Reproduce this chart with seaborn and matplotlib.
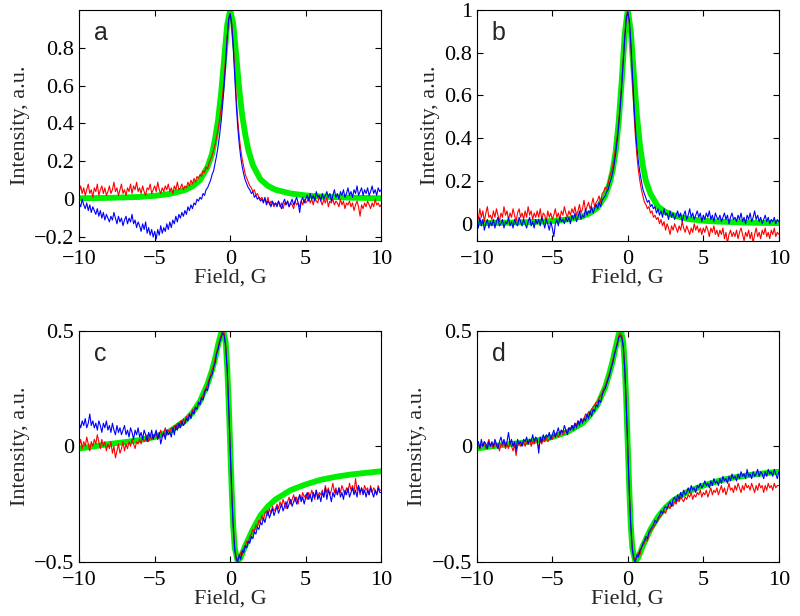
import matplotlib.pyplot as plt
import numpy as np
import seaborn as sns
from matplotlib.ticker import FuncFormatter

# field axis of the measured spectra, -10 .. 10 G in 0.1 G steps
field = np.round(np.arange(-100, 101) / 10.0, 1)

# ---- panel a ----
a_red = [
    0.04, 0.07, 0.03, 0.06, 0.02, 0.05, 0.08, 0.03, 0.05, 0.01,
    0.06, 0.04, 0.08, 0.02, 0.05, 0.07, 0.03, 0.06, 0.02, 0.04,
    0.07, 0.03, 0.05, 0.09, 0.04, 0.06, 0.02, 0.05, 0.08, 0.03,
    0.05, 0.02, 0.06, 0.04, 0.08, 0.03, 0.07, 0.05, 0.09, 0.04,
    0.06, 0.03, 0.07, 0.04, 0.02, 0.06, 0.05, 0.08, 0.03, 0.05,
    0.07, 0.04, 0.09, 0.05, 0.03, 0.06, 0.04, 0.07, 0.05, 0.08,
    0.04, 0.06, 0.03, 0.07, 0.05, 0.09, 0.05, 0.06, 0.08, 0.05,
    0.07, 0.06, 0.09, 0.07, 0.10, 0.08, 0.11, 0.09, 0.12, 0.11,
    0.13, 0.12, 0.15, 0.14, 0.17, 0.16, 0.19, 0.21, 0.23, 0.26,
    0.29, 0.33, 0.37, 0.42, 0.48, 0.55, 0.64, 0.75, 0.86, 0.95,
    0.98,
    0.93, 0.82, 0.68, 0.54, 0.42, 0.33, 0.26, 0.21, 0.17, 0.13,
    0.11, 0.09, 0.07, 0.06, 0.04, 0.05, 0.02, 0.03, 0.01, 0.00,
    0.01, -0.01, 0.00, -0.02, 0.01, -0.03, -0.01, -0.02, -0.04, -0.02,
    -0.03, -0.01, -0.04, -0.02, -0.05, -0.02, -0.03, -0.01, -0.04, -0.02,
    -0.03, -0.05, -0.01, -0.03, -0.02, -0.04, -0.01, -0.03, 0.00, -0.02,
    -0.01, 0.01, -0.02, 0.00, -0.03, 0.01, -0.01, -0.02, 0.02, -0.01,
    -0.03, 0.00, -0.02, 0.01, -0.04, -0.01, -0.02, 0.00, -0.03, -0.01,
    -0.02, -0.04, 0.00, -0.03, -0.01, -0.05, -0.02, -0.03, -0.01, -0.04,
    -0.02, -0.06, -0.03, -0.01, -0.04, -0.09, -0.03, -0.05, -0.02, -0.04,
    -0.01, -0.03, -0.05, -0.02, -0.04, 0.00, -0.03, -0.02, -0.04, -0.03,
]
a_blue = [
    -0.02, -0.04, 0.00, -0.03, -0.05, -0.02, -0.06, -0.03, -0.07, -0.04,
    -0.06, -0.08, -0.05, -0.09, -0.06, -0.10, -0.07, -0.11, -0.08, -0.10,
    -0.12, -0.09, -0.11, -0.07, -0.10, -0.13, -0.09, -0.12, -0.10, -0.14,
    -0.11, -0.09, -0.13, -0.10, -0.12, -0.08, -0.13, -0.11, -0.15, -0.12,
    -0.14, -0.17, -0.13, -0.16, -0.12, -0.18, -0.15, -0.19, -0.16, -0.20,
    -0.17, -0.21, -0.16, -0.19, -0.14, -0.18, -0.15, -0.17, -0.13, -0.16,
    -0.12, -0.15, -0.11, -0.13, -0.09, -0.12, -0.08, -0.10, -0.07, -0.09,
    -0.06, -0.08, -0.04, -0.06, -0.03, -0.05, -0.02, -0.03, 0.00, -0.01,
    0.01, 0.00, 0.03, 0.02, 0.05, 0.06, 0.08, 0.10, 0.13, 0.15,
    0.19, 0.23, 0.28, 0.34, 0.41, 0.50, 0.60, 0.72, 0.85, 0.95,
    0.98,
    0.92, 0.80, 0.65, 0.50, 0.38, 0.29, 0.22, 0.17, 0.13, 0.10,
    0.08, 0.06, 0.05, 0.03, 0.04, 0.01, 0.02, 0.00, 0.01, -0.01,
    0.00, -0.02, 0.01, -0.03, -0.01, -0.02, -0.04, -0.01, -0.03, -0.02,
    -0.04, -0.01, -0.03, -0.05, -0.02, 0.00, -0.03, -0.01, -0.04, -0.02,
    0.00, -0.03, -0.01, 0.01, -0.02, -0.07, -0.01, 0.01, -0.02, 0.00,
    0.02, -0.01, 0.03, 0.00, 0.02, -0.01, 0.04, 0.01, 0.02, -0.01,
    0.03, 0.00, 0.02, 0.04, 0.01, 0.03, -0.01, 0.02, 0.05, 0.01,
    0.03, 0.00, 0.04, 0.02, 0.05, 0.01, 0.03, 0.06, 0.02, 0.04,
    0.01, 0.05, 0.03, 0.07, 0.02, 0.04, 0.06, 0.02, 0.05, 0.03,
    0.06, 0.02, 0.04, 0.07, 0.03, 0.05, 0.02, 0.06, 0.04, 0.05,
]
a_fit_x = [-10, -8, -6, -5, -4, -3, -2.5, -2, -1.5, -1.2, -1, -0.8, -0.6, -0.4, -0.2, 0,
           0.2, 0.4, 0.6, 0.8, 1.0, 1.2, 1.5, 2, 2.5, 3, 4, 5, 6, 8, 10]
a_fit_y = [0.005, 0.007, 0.012, 0.018, 0.028, 0.048, 0.068, 0.10, 0.17, 0.24, 0.32, 0.42, 0.56, 0.74, 0.92, 1.0,
           0.93, 0.76, 0.58, 0.44, 0.34, 0.26, 0.18, 0.105, 0.07, 0.05, 0.03, 0.02, 0.014, 0.008, 0.005]

# ---- panel b ----
b_red = [
    0.05, 0.02, 0.07, 0.03, 0.06, 0.01, 0.05, 0.08, 0.03, 0.04,
    0.02, 0.06, 0.03, 0.07, 0.04, 0.01, 0.05, 0.03, 0.08, 0.04,
    0.06, 0.02, 0.05, 0.03, 0.07, 0.04, 0.01, 0.05, 0.07, 0.03,
    0.05, 0.02, 0.06, 0.03, 0.08, 0.04, 0.06, 0.02, 0.05, 0.03,
    0.06, 0.03, 0.07, 0.02, 0.05, 0.04, 0.01, 0.06, 0.03, 0.05,
    0.02, 0.04, 0.07, 0.03, 0.05, 0.02, 0.06, 0.04, 0.08, 0.05,
    0.03, 0.06, 0.04, 0.07, 0.05, 0.08, 0.04, 0.06, 0.09, 0.05,
    0.07, 0.11, 0.06, 0.08, 0.10, 0.07, 0.09, 0.12, 0.08, 0.10,
    0.11, 0.13, 0.10, 0.14, 0.15, 0.17, 0.16, 0.19, 0.22, 0.24,
    0.27, 0.31, 0.36, 0.41, 0.48, 0.56, 0.66, 0.77, 0.88, 0.97,
    0.99,
    0.94, 0.83, 0.68, 0.53, 0.41, 0.32, 0.25, 0.20, 0.16, 0.13,
    0.10, 0.09, 0.07, 0.08, 0.05, 0.06, 0.03, 0.04, 0.02, 0.03,
    0.00, 0.02, -0.01, 0.01, -0.03, 0.00, -0.02, -0.05, -0.01, -0.03,
    0.00, -0.02, -0.04, -0.01, -0.03, 0.01, -0.02, -0.04, -0.01, -0.03,
    -0.05, -0.02, -0.04, 0.00, -0.03, -0.01, -0.04, -0.02, -0.05, -0.02,
    -0.04, -0.01, -0.03, -0.06, -0.02, -0.04, -0.01, -0.05, -0.03, -0.06,
    -0.03, -0.05, -0.02, -0.07, -0.04, -0.09, -0.05, -0.03, -0.06, -0.04,
    -0.06, -0.03, -0.07, -0.04, -0.02, -0.05, -0.08, -0.04, -0.06, -0.03,
    -0.07, -0.04, -0.09, -0.05, -0.02, -0.06, -0.04, -0.07, -0.03, -0.05,
    -0.02, -0.06, -0.04, -0.07, -0.03, -0.05, -0.02, -0.06, -0.04, -0.05,
]
b_blue = [
    0.01, -0.02, 0.03, -0.01, 0.02, -0.03, 0.00, 0.02, -0.02, 0.01,
    -0.01, 0.02, -0.02, 0.01, 0.03, -0.01, 0.00, 0.02, -0.02, 0.01,
    0.00, 0.03, -0.01, 0.01, -0.02, 0.02, 0.00, -0.01, 0.03, 0.01,
    -0.01, 0.02, 0.00, -0.02, 0.01, 0.03, -0.01, 0.01, -0.02, 0.02,
    0.00, 0.02, -0.01, 0.03, 0.01, -0.02, 0.02, 0.00, -0.03, 0.01,
    -0.02, -0.06, 0.00, 0.02, -0.01, 0.03, 0.01, 0.02, 0.00, 0.03,
    0.01, 0.03, 0.00, 0.04, 0.02, 0.05, 0.01, 0.03, 0.06, 0.02,
    0.04, 0.03, 0.07, 0.04, 0.06, 0.05, 0.08, 0.05, 0.07, 0.09,
    0.07, 0.10, 0.08, 0.11, 0.12, 0.13, 0.15, 0.16, 0.19, 0.21,
    0.24, 0.28, 0.33, 0.39, 0.46, 0.55, 0.65, 0.76, 0.87, 0.96,
    0.99,
    0.95, 0.85, 0.71, 0.57, 0.45, 0.36, 0.29, 0.24, 0.20, 0.16,
    0.14, 0.12, 0.10, 0.11, 0.08, 0.09, 0.07, 0.08, 0.05, 0.07,
    0.04, 0.06, 0.03, 0.07, 0.04, 0.05, 0.02, 0.06, 0.03, 0.05,
    0.02, 0.04, 0.06, 0.03, 0.05, 0.01, 0.04, 0.06, 0.02, 0.04,
    0.07, 0.03, 0.05, 0.02, 0.04, 0.06, 0.03, 0.05, 0.01, 0.04,
    0.02, 0.05, 0.03, 0.06, 0.02, 0.04, 0.01, 0.05, 0.03, 0.02,
    0.04, 0.01, 0.03, 0.05, 0.02, 0.04, 0.00, 0.03, 0.05, 0.02,
    0.03, 0.01, 0.04, 0.02, 0.05, 0.01, 0.03, 0.00, 0.04, 0.02,
    0.05, 0.01, 0.03, 0.06, 0.02, 0.04, 0.01, 0.03, 0.00, 0.02,
    0.04, 0.01, 0.03, 0.00, 0.02, 0.01, 0.03, 0.00, 0.02, 0.01,
]
b_fit_x = [-10, -8, -6, -5, -4, -3, -2.5, -2, -1.5, -1.2, -1, -0.8, -0.6, -0.4, -0.2, 0,
           0.2, 0.4, 0.6, 0.8, 1.0, 1.2, 1.5, 2, 2.5, 3, 4, 5, 6, 8, 10]
b_fit_y = [0.003, 0.005, 0.009, 0.013, 0.02, 0.035, 0.05, 0.075, 0.13, 0.19, 0.25, 0.34, 0.48, 0.67, 0.89, 1.0,
           0.90, 0.70, 0.51, 0.37, 0.27, 0.20, 0.14, 0.08, 0.055, 0.04, 0.022, 0.014, 0.01, 0.005, 0.003]

# ---- panel c ----
c_red = [
    0.00, 0.03, -0.01, 0.02, 0.00, 0.04, 0.01, -0.02, 0.02, 0.00,
    0.03, 0.01, 0.05, 0.02, -0.01, 0.03, 0.00, 0.02, -0.02, 0.01,
    -0.01, 0.02, -0.03, 0.00, -0.05, -0.02, 0.01, -0.03, -0.01, 0.02,
    -0.02, 0.01, -0.01, 0.02, 0.00, 0.03, 0.01, -0.01, 0.02, 0.01,
    0.03, 0.01, 0.04, 0.02, 0.03, 0.05, 0.02, 0.04, 0.03, 0.05,
    0.04, 0.06, 0.03, 0.05, 0.07, 0.04, 0.06, 0.08, 0.05, 0.07,
    0.06, 0.08, 0.07, 0.09, 0.07, 0.10, 0.08, 0.11, 0.09, 0.12,
    0.10, 0.13, 0.12, 0.14, 0.13, 0.16, 0.15, 0.17, 0.16, 0.19,
    0.19, 0.21, 0.22, 0.24, 0.25, 0.27, 0.29, 0.31, 0.33, 0.35,
    0.38, 0.41, 0.43, 0.46, 0.48, 0.50, 0.49, 0.44, 0.34, 0.18,
    0.00,
    -0.19, -0.34, -0.44, -0.48, -0.49, -0.48, -0.46, -0.47, -0.44, -0.43,
    -0.41, -0.42, -0.39, -0.38, -0.36, -0.37, -0.34, -0.35, -0.32, -0.33,
    -0.30, -0.32, -0.29, -0.28, -0.30, -0.27, -0.29, -0.26, -0.28, -0.27,
    -0.25, -0.27, -0.24, -0.26, -0.23, -0.25, -0.27, -0.24, -0.22, -0.25,
    -0.23, -0.21, -0.24, -0.22, -0.25, -0.21, -0.23, -0.20, -0.22, -0.21,
    -0.23, -0.20, -0.22, -0.19, -0.21, -0.23, -0.19, -0.22, -0.20, -0.21,
    -0.19, -0.22, -0.17, -0.20, -0.18, -0.21, -0.19, -0.16, -0.20, -0.18,
    -0.21, -0.18, -0.20, -0.17, -0.19, -0.21, -0.18, -0.20, -0.16, -0.19,
    -0.17, -0.20, -0.14, -0.19, -0.17, -0.21, -0.18, -0.20, -0.17, -0.19,
    -0.18, -0.21, -0.17, -0.20, -0.18, -0.19, -0.21, -0.17, -0.19, -0.19,
]
c_blue = [
    0.10, 0.08, 0.11, 0.09, 0.12, 0.08, 0.10, 0.14, 0.09, 0.11,
    0.08, 0.10, 0.07, 0.11, 0.09, 0.06, 0.10, 0.08, 0.11, 0.07,
    0.09, 0.06, 0.10, 0.07, 0.05, 0.09, 0.06, 0.08, 0.05, 0.07,
    0.09, 0.05, 0.07, 0.04, 0.08, 0.06, 0.03, 0.07, 0.05, 0.08,
    0.04, 0.06, 0.03, 0.07, 0.05, 0.02, 0.06, 0.04, 0.07, 0.03,
    0.05, 0.07, 0.03, 0.06, 0.01, 0.04, 0.06, 0.03, 0.07, 0.05,
    0.06, 0.04, 0.08, 0.05, 0.09, 0.07, 0.10, 0.08, 0.11, 0.09,
    0.10, 0.12, 0.11, 0.14, 0.12, 0.15, 0.14, 0.17, 0.16, 0.19,
    0.18, 0.21, 0.20, 0.23, 0.25, 0.24, 0.28, 0.30, 0.31, 0.34,
    0.36, 0.40, 0.42, 0.45, 0.47, 0.49, 0.48, 0.43, 0.33, 0.17,
    -0.01,
    -0.20, -0.35, -0.45, -0.49, -0.50, -0.47, -0.49, -0.45, -0.46, -0.43,
    -0.44, -0.41, -0.42, -0.39, -0.40, -0.37, -0.38, -0.35, -0.36, -0.33,
    -0.34, -0.31, -0.33, -0.30, -0.28, -0.31, -0.29, -0.27, -0.30, -0.28,
    -0.26, -0.29, -0.27, -0.25, -0.28, -0.26, -0.24, -0.27, -0.25, -0.23,
    -0.26, -0.24, -0.22, -0.25, -0.23, -0.21, -0.24, -0.22, -0.25, -0.22,
    -0.20, -0.23, -0.21, -0.24, -0.20, -0.22, -0.19, -0.23, -0.21, -0.24,
    -0.20, -0.22, -0.18, -0.23, -0.19, -0.21, -0.24, -0.20, -0.22, -0.19,
    -0.21, -0.18, -0.22, -0.20, -0.23, -0.19, -0.21, -0.18, -0.22, -0.20,
    -0.18, -0.21, -0.19, -0.22, -0.17, -0.20, -0.18, -0.21, -0.19, -0.22,
    -0.19, -0.21, -0.18, -0.20, -0.22, -0.19, -0.21, -0.18, -0.20, -0.20,
]
c_fit_x = [-10, -9, -8, -7, -6, -5, -4, -3, -2.5, -2, -1.5, -1.2, -1, -0.8, -0.6, -0.45, -0.3, -0.2, -0.1, 0,
           0.1, 0.2, 0.3, 0.5, 0.7, 1, 1.5, 2, 2.5, 3, 4, 5, 6, 7, 8, 9, 10]
c_fit_y = [-0.01, 0.0, 0.01, 0.018, 0.027, 0.04, 0.065, 0.11, 0.145, 0.195, 0.27, 0.33, 0.38, 0.44, 0.49, 0.50, 0.45, 0.345, 0.19, 0.0,
           -0.19, -0.345, -0.44, -0.50, -0.48, -0.43, -0.36, -0.30, -0.26, -0.23, -0.19, -0.165, -0.145, -0.132, -0.122, -0.115, -0.108]

# ---- panel d ----
d_red = [
    0.00, 0.02, -0.01, 0.01, 0.00, 0.02, -0.01, 0.01, 0.03, 0.00,
    0.01, -0.01, 0.02, 0.00, 0.01, -0.02, 0.01, 0.00, 0.02, -0.01,
    0.01, -0.01, 0.02, 0.00, -0.02, 0.01, -0.04, 0.00, 0.02, 0.00,
    0.01, 0.02, 0.00, 0.02, 0.01, 0.03, 0.00, 0.02, 0.01, 0.03,
    0.02, -0.01, 0.03, 0.01, 0.03, 0.02, 0.04, 0.02, 0.03, 0.04,
    0.03, 0.05, 0.04, 0.06, 0.04, 0.05, 0.07, 0.05, 0.06, 0.07,
    0.06, 0.08, 0.07, 0.09, 0.08, 0.10, 0.09, 0.11, 0.10, 0.12,
    0.11, 0.12, 0.14, 0.13, 0.15, 0.14, 0.16, 0.17, 0.18, 0.19,
    0.19, 0.21, 0.22, 0.23, 0.25, 0.26, 0.28, 0.30, 0.32, 0.34,
    0.37, 0.40, 0.42, 0.45, 0.48, 0.49, 0.48, 0.44, 0.34, 0.18,
    0.00,
    -0.19, -0.34, -0.44, -0.48, -0.49, -0.48, -0.46, -0.47, -0.44, -0.43,
    -0.42, -0.40, -0.41, -0.38, -0.37, -0.36, -0.35, -0.34, -0.33, -0.32,
    -0.31, -0.30, -0.29, -0.28, -0.29, -0.27, -0.26, -0.27, -0.25, -0.26,
    -0.24, -0.25, -0.23, -0.24, -0.22, -0.23, -0.24, -0.22, -0.23, -0.21,
    -0.22, -0.20, -0.23, -0.21, -0.22, -0.20, -0.21, -0.19, -0.22, -0.20,
    -0.21, -0.19, -0.22, -0.20, -0.18, -0.21, -0.19, -0.20, -0.18, -0.21,
    -0.19, -0.17, -0.20, -0.18, -0.21, -0.19, -0.16, -0.19, -0.18, -0.20,
    -0.17, -0.19, -0.16, -0.18, -0.20, -0.17, -0.19, -0.16, -0.18, -0.17,
    -0.19, -0.16, -0.18, -0.20, -0.17, -0.19, -0.16, -0.18, -0.17, -0.20,
    -0.17, -0.19, -0.16, -0.18, -0.17, -0.19, -0.16, -0.18, -0.17, -0.17,
]
d_blue = [
    0.00, 0.02, -0.01, 0.03, 0.00, 0.02, 0.01, -0.01, 0.02, 0.00,
    0.02, 0.00, 0.03, 0.01, -0.01, 0.02, 0.04, 0.01, 0.03, 0.00,
    0.02, 0.06, 0.01, 0.03, 0.00, 0.02, -0.02, 0.03, 0.01, 0.02,
    0.00, 0.03, 0.02, 0.04, 0.01, 0.03, 0.02, 0.05, 0.02, 0.04,
    0.03, -0.03, 0.04, 0.02, 0.05, 0.03, 0.05, 0.04, 0.06, 0.03,
    0.05, 0.07, 0.04, 0.06, 0.08, 0.05, 0.07, 0.06, 0.09, 0.07,
    0.05, 0.08, 0.07, 0.09, 0.07, 0.10, 0.08, 0.11, 0.09, 0.12,
    0.10, 0.12, 0.11, 0.14, 0.12, 0.15, 0.13, 0.16, 0.15, 0.18,
    0.17, 0.20, 0.19, 0.22, 0.24, 0.25, 0.27, 0.29, 0.31, 0.34,
    0.36, 0.39, 0.42, 0.44, 0.47, 0.48, 0.47, 0.43, 0.33, 0.17,
    -0.01,
    -0.20, -0.35, -0.45, -0.49, -0.50, -0.47, -0.48, -0.45, -0.44, -0.42,
    -0.41, -0.39, -0.40, -0.37, -0.36, -0.35, -0.34, -0.32, -0.33, -0.31,
    -0.30, -0.28, -0.29, -0.27, -0.26, -0.27, -0.25, -0.24, -0.26, -0.23,
    -0.22, -0.24, -0.21, -0.23, -0.20, -0.22, -0.19, -0.21, -0.20, -0.18,
    -0.20, -0.17, -0.19, -0.18, -0.20, -0.17, -0.18, -0.16, -0.18, -0.17,
    -0.15, -0.17, -0.16, -0.18, -0.15, -0.17, -0.14, -0.16, -0.15, -0.17,
    -0.14, -0.16, -0.13, -0.15, -0.14, -0.16, -0.13, -0.15, -0.12, -0.14,
    -0.13, -0.15, -0.12, -0.14, -0.11, -0.13, -0.12, -0.14, -0.10, -0.13,
    -0.12, -0.14, -0.11, -0.13, -0.12, -0.10, -0.13, -0.11, -0.12, -0.14,
    -0.11, -0.13, -0.10, -0.12, -0.11, -0.13, -0.10, -0.12, -0.14, -0.11,
]
d_fit_x = c_fit_x
d_fit_y = [-0.01, 0.0, 0.008, 0.015, 0.025, 0.04, 0.062, 0.10, 0.135, 0.18, 0.255, 0.32, 0.37, 0.43, 0.485, 0.50, 0.45, 0.35, 0.19, 0.0,
           -0.19, -0.345, -0.44, -0.50, -0.48, -0.43, -0.36, -0.305, -0.265, -0.235, -0.195, -0.17, -0.15, -0.135, -0.125, -0.117, -0.11]

sns.set_style("ticks", {"xtick.direction": "in", "ytick.direction": "in"})
plt.rcParams["font.family"] = ["Liberation Serif", "DejaVu Serif"]
plt.rcParams["axes.unicode_minus"] = True


def fmt(v, pos):
    return ("%g" % round(v, 3)).replace("-", "\u2212")


def draw_panel(ax, fit_x, fit_y, red, blue, ylim, yticks, letter):
    sns.lineplot(x=fit_x, y=fit_y, ax=ax, color="#00ee00", linewidth=4.2,
                 estimator=None, sort=False)
    sns.lineplot(x=field, y=red, ax=ax, color="#ff0000", linewidth=0.8,
                 estimator=None, sort=False)
    sns.lineplot(x=field, y=blue, ax=ax, color="#0000ff", linewidth=0.8,
                 estimator=None, sort=False)
    ax.set_xlim(-10, 10)
    ax.set_ylim(*ylim)
    ax.set_xticks([-10, -5, 0, 5, 10])
    ax.set_yticks(yticks)
    ax.xaxis.set_major_formatter(FuncFormatter(fmt))
    ax.yaxis.set_major_formatter(FuncFormatter(fmt))
    ax.tick_params(direction="in", top=True, right=True, length=4, width=0.8,
                   labelsize=16, colors="black")
    ax.tick_params(axis="x", pad=6.5)
    ax.tick_params(axis="y", pad=3.5)
    for s in ax.spines.values():
        s.set_visible(True)
        s.set_linewidth(0.8)
        s.set_color("black")
    ax.set_xlabel("Field, G", fontsize=16, labelpad=0)
    ax.set_ylabel("Intensity, a.u.", fontsize=16, labelpad=3)
    ax.text(0.05, 0.90, letter, transform=ax.transAxes, fontsize=18,
            family=["Liberation Sans", "DejaVu Sans"], ha="left", va="center")


fig = plt.figure(figsize=(8, 6.16), dpi=100)
ax_a = fig.add_axes([0.099, 0.609, 0.3775, 0.375])
ax_b = fig.add_axes([0.596, 0.609, 0.3775, 0.375])
ax_c = fig.add_axes([0.099, 0.088, 0.3775, 0.375])
ax_d = fig.add_axes([0.596, 0.088, 0.3775, 0.375])

draw_panel(ax_a, a_fit_x, a_fit_y, a_red, a_blue, (-0.22, 1.0),
           [-0.2, 0, 0.2, 0.4, 0.6, 0.8], "a")
draw_panel(ax_b, b_fit_x, b_fit_y, b_red, b_blue, (-0.08, 1.0),
           [0, 0.2, 0.4, 0.6, 0.8, 1.0], "b")
draw_panel(ax_c, c_fit_x, c_fit_y, c_red, c_blue, (-0.5, 0.5),
           [-0.5, 0, 0.5], "c")
draw_panel(ax_d, d_fit_x, d_fit_y, d_red, d_blue, (-0.5, 0.5),
           [-0.5, 0, 0.5], "d")

fig.savefig("out.png", dpi=100, facecolor="white")
